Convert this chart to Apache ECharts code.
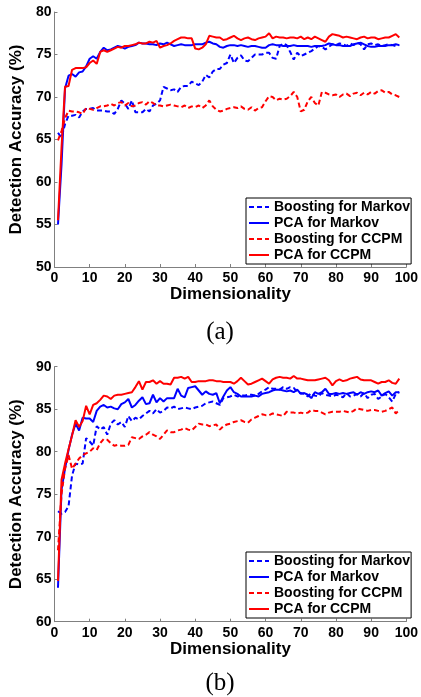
<!DOCTYPE html>
<html>
<head>
<meta charset="utf-8">
<script src="https://cdn.jsdelivr.net/npm/echarts@6/dist/echarts.min.js"></script>
<style>
  html, body { margin: 0; padding: 0; background: #fff; }
  #chart { width: 421px; height: 697px; }
</style>
</head>
<body>
<div id="chart"></div>
<script>
// dimensionality (x values)
const dims = [1,2,3,4,5,6,7,8,9,10,11,12,13,14,15,16,17,18,19,20,
  21,22,23,24,25,26,27,28,29,30,31,32,33,34,35,36,37,38,39,40,
  41,42,43,44,45,46,47,48,49,50,51,52,53,54,55,56,57,58,59,60,
  61,62,63,64,65,66,67,68,69,70,71,72,73,74,75,76,77,78,79,80,
  81,82,83,84,85,86,87,88,89,90,91,92,93,94,95,96,97,98];

const xTicks = [0, 10, 20, 30, 40, 50, 60, 70, 80, 90, 100];
const yTicksA = [50, 55, 60, 65, 70, 75, 80];
const yTicksB = [60, 65, 70, 75, 80, 85, 90];

const names = ["Boosting for Markov", "PCA for Markov", "Boosting for CCPM", "PCA for CCPM"];

// (a)
const boostMarkovA = [65.8,65.2,66.8,67.8,67.8,67.9,67.6,68.3,68.6,68.6,68.7,68.4,68.4,68.4,68.3,68.3,68.0,68.6,69.6,69.2,
  68.6,69.6,68.2,68.2,68.2,68.6,68.3,69.0,69.2,69.6,71.2,71.0,70.8,70.9,70.6,71.2,71.3,71.3,71.8,71.6,
  71.4,71.8,72.6,72.3,73.0,73.3,73.3,73.8,74.0,75.0,74.0,74.6,74.9,74.3,74.2,74.6,75.0,75.0,75.0,75.2,
  75.2,74.6,74.5,76.0,76.3,76.1,75.3,74.4,75.2,74.8,75.0,75.2,75.4,75.7,76.0,75.9,75.6,75.9,76.2,76.1,
  76.3,76.2,76.0,76.3,76.1,76.4,76.2,75.6,76.2,76.3,76.1,76.2,76.0,76.1,76.2,76.1,76.0,76.1];
const pcaMarkovA = [55.0,62.0,71.0,72.5,72.7,72.4,72.9,73.0,73.6,74.5,74.8,74.5,75.3,75.8,75.5,75.6,75.8,76.0,75.9,75.7,
  75.9,76.0,76.1,76.4,76.3,76.3,76.2,76.2,76.1,76.3,76.2,76.4,76.2,76.0,76.1,76.2,76.1,76.1,76.1,76.2,
  76.2,76.2,76.4,76.5,76.3,76.2,75.9,75.8,76.0,76.1,76.1,76.0,76.1,76.0,75.9,76.0,76.0,75.9,75.8,75.8,
  76.1,76.2,76.1,76.1,76.0,76.0,76.0,76.1,76.0,76.0,76.0,76.0,75.9,76.0,76.0,76.0,76.1,76.3,76.2,76.1,
  76.1,76.0,76.0,76.0,76.2,76.3,76.4,76.2,76.0,75.9,75.9,76.0,76.0,76.0,76.1,76.1,76.2,76.1];
const boostCcpmA = [64.9,66.0,67.5,68.4,68.3,68.3,68.2,68.0,68.7,68.6,68.5,68.7,68.9,68.9,69.0,69.2,69.0,69.3,69.4,69.0,
  69.3,68.9,69.0,69.3,69.4,69.1,69.5,69.3,69.0,69.0,68.9,69.0,69.1,69.0,68.9,68.8,69.0,68.7,68.9,68.8,
  69.0,68.7,69.0,69.6,68.9,68.5,68.3,68.4,68.6,68.7,68.8,68.7,68.9,68.6,68.5,68.8,68.4,68.7,68.8,69.5,
  70.1,70.0,69.6,69.8,69.7,69.8,70.1,70.6,70.0,68.3,68.5,69.5,70.0,69.3,69.0,70.6,70.5,70.3,70.2,70.3,
  70.0,70.3,70.4,70.1,70.4,70.5,70.2,70.5,70.3,70.6,70.4,70.7,70.8,70.5,70.6,70.3,70.2,70.0];
const pcaCcpmA = [55.5,64.0,71.2,71.3,73.2,73.4,73.4,73.4,73.5,74.0,74.3,73.9,75.3,75.5,75.3,75.5,75.7,75.9,75.8,76.0,
  76.0,76.1,76.2,76.4,76.3,76.3,76.5,76.4,76.6,75.8,76.0,76.1,76.3,76.6,76.8,77.0,77.0,76.9,76.9,75.7,
  75.6,75.8,76.2,77.2,77.1,77.0,77.0,76.7,76.8,77.0,77.2,76.9,76.7,76.9,77.0,76.8,76.7,76.9,77.0,77.1,
  77.5,76.9,77.1,77.0,77.0,76.9,77.0,77.0,76.9,77.1,76.8,77.0,76.8,77.1,76.9,76.7,76.5,77.1,77.4,77.3,
  77.2,77.0,77.1,77.0,76.9,76.8,77.0,77.1,76.9,77.0,77.0,76.8,76.9,77.0,77.0,77.2,77.4,77.0];

// (b)
const boostMarkovB = [73.0,72.7,72.9,73.6,77.2,78.6,78.5,78.6,81.6,81.2,80.7,83.0,82.6,82.9,82.0,83.3,83.7,83.2,83.5,82.9,
  84.2,83.6,84.0,83.8,84.2,84.5,84.8,84.5,85.0,84.6,84.8,85.2,85.1,85.3,85.0,85.1,85.2,85.1,85.0,85.2,
  85.3,85.4,85.7,85.8,85.9,85.7,85.5,86.3,86.4,86.5,86.7,86.5,86.6,86.6,86.7,86.7,86.6,86.8,87.1,87.3,
  87.6,87.4,87.4,87.3,87.6,87.4,87.6,87.5,87.0,86.9,86.8,86.5,86.9,86.6,86.5,86.9,86.7,86.6,86.5,86.7,
  86.6,86.4,86.9,86.5,86.6,86.8,86.5,86.9,86.3,86.7,86.8,86.2,86.5,86.8,86.4,85.9,86.8,87.0];
const pcaMarkovB = [64.0,75.5,78.0,80.2,82.0,83.3,82.5,84.0,83.9,83.9,83.5,84.8,85.3,85.5,85.2,85.3,85.1,85.0,85.6,85.8,
  86.2,85.2,85.5,86.0,86.4,85.6,85.7,86.7,85.8,86.3,85.9,86.3,86.3,86.3,87.4,86.6,86.4,87.5,87.6,87.7,
  87.2,86.7,87.1,86.8,86.7,86.9,85.7,86.5,87.2,87.6,87.0,86.8,86.5,86.5,86.5,86.5,86.6,86.5,86.8,86.9,
  87.0,87.2,87.3,87.3,87.2,87.1,87.2,87.0,87.3,86.8,86.9,86.7,86.3,87.0,86.8,87.0,87.4,86.8,86.8,86.9,
  86.8,86.9,86.8,86.9,87.0,86.7,87.0,86.8,87.0,87.1,87.0,87.2,86.6,86.9,87.1,86.6,87.0,87.0];
const boostCcpmB = [68.4,75.0,78.0,79.6,78.0,78.6,79.2,79.6,79.8,80.0,80.4,80.2,81.0,81.5,81.4,81.0,80.7,80.8,80.7,80.7,
  80.8,81.7,81.6,81.5,81.8,82.0,82.3,82.0,81.8,81.5,82.0,82.5,82.3,82.3,82.5,82.6,82.8,82.6,82.5,82.9,
  83.3,83.2,83.2,83.0,83.1,83.2,82.6,83.0,83.2,83.3,83.5,83.6,83.7,83.5,83.4,83.8,84.0,84.2,84.4,84.3,
  84.3,84.5,84.4,84.3,84.2,84.7,84.6,84.6,84.5,84.6,84.5,84.6,84.9,84.8,84.8,84.6,84.4,84.6,84.7,84.7,
  84.7,84.8,84.7,84.6,84.8,85.1,85.0,84.9,84.8,84.9,84.9,84.8,84.7,84.8,85.0,85.2,84.5,84.9];
const pcaCcpmB = [64.8,76.7,78.6,80.3,81.9,83.7,82.9,83.6,85.4,84.4,85.5,85.7,86.1,86.6,86.5,86.2,86.6,86.7,86.7,86.8,
  86.9,87.0,87.6,88.3,87.3,88.2,88.2,88.4,88.0,88.3,88.0,88.0,87.9,88.7,88.7,88.8,88.6,88.8,88.2,88.2,
  88.3,88.3,88.3,88.4,88.4,88.3,88.3,88.2,88.2,88.2,88.0,88.3,88.7,88.3,87.9,88.0,88.2,88.4,88.6,88.3,
  88.0,88.5,88.7,88.8,88.7,88.7,88.6,88.9,88.6,88.6,88.5,88.4,88.4,88.4,88.5,88.6,88.7,88.4,87.8,88.3,
  88.5,88.3,88.4,88.6,88.7,88.8,88.5,88.4,88.4,88.4,88.2,88.0,88.2,88.2,88.4,88.1,88.0,88.6];

const FONT = "'Liberation Sans', Arial, sans-serif";
const AXIS_GRAY = "#808080";
const DASH = [5, 3];

function pairs(vals) {
  return dims.map((d, i) => [d, vals[i]]);
}

function makeSeries(vals, name, color, dashed, idx) {
  return {
    name: name,
    type: "line",
    xAxisIndex: idx,
    yAxisIndex: idx,
    data: pairs(vals),
    symbol: "none",
    animation: false,
    itemStyle: { color: color },
    lineStyle: { color: color, width: 2, type: dashed ? DASH : "solid" }
  };
}

function makeXAxis(gridIndex) {
  return {
    type: "value",
    gridIndex: gridIndex,
    min: xTicks[0],
    max: xTicks[xTicks.length - 1],
    interval: 10,
    name: "Dimensionality",
    nameLocation: "middle",
    nameGap: 17,
    nameTextStyle: { fontFamily: FONT, fontWeight: "bold", fontSize: 17, color: "#000" },
    axisLine: { onZero: false, lineStyle: { color: AXIS_GRAY, width: 1 } },
    axisTick: { inside: true, length: 3, lineStyle: { color: AXIS_GRAY } },
    axisLabel: { fontFamily: FONT, fontWeight: "bold", fontSize: 14, color: "#000", margin: 4 },
    splitLine: { show: false }
  };
}

function makeYAxis(gridIndex, ticks) {
  return {
    type: "value",
    gridIndex: gridIndex,
    min: ticks[0],
    max: ticks[ticks.length - 1],
    interval: 5,
    name: "Detection Accuracy (%)",
    nameLocation: "middle",
    nameGap: 22,
    nameTextStyle: { fontFamily: FONT, fontWeight: "bold", fontSize: 17, color: "#000" },
    axisLine: { show: true, onZero: false, lineStyle: { color: AXIS_GRAY, width: 1 } },
    axisTick: { show: true, inside: true, length: 3, lineStyle: { color: AXIS_GRAY } },
    axisLabel: { fontFamily: FONT, fontWeight: "bold", fontSize: 14, color: "#000", margin: 3 },
    splitLine: { show: false }
  };
}

function makeLegend(top) {
  return {
    orient: "vertical",
    left: 246,
    top: top,
    data: names,
    itemWidth: 20,
    itemHeight: 14,
    itemGap: 2,
    padding: [2, 1, 2, 2],
    borderColor: "#000",
    borderWidth: 1,
    backgroundColor: "#fff",
    selectedMode: false,
    itemStyle: { opacity: 0 },
    lineStyle: { width: 2 },
    textStyle: { fontFamily: FONT, fontWeight: "bold", fontSize: 14, color: "#000", lineHeight: 14 }
  };
}

const chart = echarts.init(document.getElementById("chart"), null, { renderer: "canvas" });
chart.setOption({
  animation: false,
  backgroundColor: "#fff",
  grid: [
    { left: 46, top: 12, width: 364, height: 255 },
    { left: 46, top: 366.7, width: 364, height: 255 }
  ],
  xAxis: [makeXAxis(0), makeXAxis(1)],
  yAxis: [makeYAxis(0, yTicksA), makeYAxis(1, yTicksB)],
  legend: [makeLegend(198), makeLegend(552)],
  series: [
    makeSeries(boostMarkovA, names[0], "#0000ff", true, 0),
    makeSeries(pcaMarkovA, names[1], "#0000ff", false, 0),
    makeSeries(boostCcpmA, names[2], "#ff0000", true, 0),
    makeSeries(pcaCcpmA, names[3], "#ff0000", false, 0),
    makeSeries(boostMarkovB, names[0], "#0000ff", true, 1),
    makeSeries(pcaMarkovB, names[1], "#0000ff", false, 1),
    makeSeries(boostCcpmB, names[2], "#ff0000", true, 1),
    makeSeries(pcaCcpmB, names[3], "#ff0000", false, 1)
  ],
  graphic: [
    { type: "text", x: 220, y: 332, style: { text: "(a)", font: "25px 'Liberation Serif', 'Times New Roman', serif", fill: "#000", align: "center", verticalAlign: "middle" } },
    { type: "text", x: 220, y: 683, style: { text: "(b)", font: "25px 'Liberation Serif', 'Times New Roman', serif", fill: "#000", align: "center", verticalAlign: "middle" } }
  ]
});
</script>
</body>
</html>
